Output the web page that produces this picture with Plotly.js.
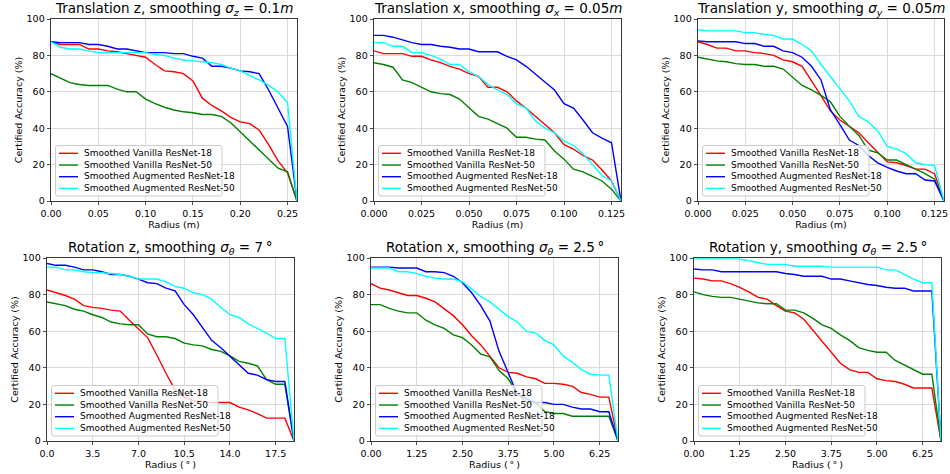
<!DOCTYPE html>
<html>
<head>
<meta charset="utf-8">
<script src="https://cdn.plot.ly/plotly-3.0.1.min.js"></script>
<style>html,body{margin:0;padding:0;background:#fff;}#chart{width:950px;height:474px;}</style>
</head>
<body>
<div id="chart"></div>
<script>
// ---------- data ----------
const seriesNames = ['Smoothed Vanilla ResNet-18', 'Smoothed Vanilla ResNet-50', 'Smoothed Augmented ResNet-18', 'Smoothed Augmented ResNet-50'];

// Translation z
const tzRadius = [0,0.01,0.02,0.03,0.04,0.05,0.06,0.07,0.08,0.09,0.10,0.11,0.12,0.13,0.14,0.15,0.16,0.17,0.18,0.19,0.20,0.21,0.22,0.23,0.24,0.25,0.26];
const tzVan18 = [87.5,86,86,86,83.5,83.5,82.5,82,81,80,79,75,71.5,71,70,66,56.5,52.5,49.5,46,43.5,42.5,39,31,22,15.5,0];
const tzVan50 = [70,67.5,65,64,63.5,63.5,63.5,61.5,60,60,56,53.5,51.5,50,49,48.5,47.5,47.5,46.5,43,38,33,28,23,18,16,0];
const tzAug18 = [87.5,87,87,87,86,86,85,83.5,83.5,82.5,81.5,81.5,81.5,81,81,79.5,78.5,74,74,73,71.5,71,70,61,51,41,0];
const tzAug50 = [87.5,84.5,83.5,83.5,82.5,81.5,81.5,81.5,81.5,81.5,81.5,80.5,80,78.5,77.5,77,76.5,76,75,73,71.5,69,66.5,63.5,60,54,0];

// Translation x
const txRadius = [0,0.005,0.01,0.015,0.02,0.025,0.03,0.035,0.04,0.045,0.05,0.055,0.06,0.065,0.07,0.075,0.08,0.085,0.09,0.095,0.10,0.105,0.11,0.115,0.12,0.125,0.13];
const txVan18 = [82.5,81,81,81,79.5,79.5,77.5,76,74,72.5,70,68.5,62.5,62.5,60,55,51,46.5,42,37.5,31,28.5,25,22.5,17,11,0];
const txVan50 = [76,75,73.5,66.5,65,62.5,60,59,58.5,56,51,46.5,45,42.5,40,35,35,34,33.5,27.5,23,17.5,16,13.5,11,6.5,0];
const txAug18 = [91,91,90,88.5,87,86,86,85,84.5,83.5,83.5,82,82,82,79.5,77.5,74,69.5,65.5,61,53.5,51,44.5,37.5,34.5,32,0];
const txAug50 = [87,87,85,85,81.5,81.5,80,78,75,75,71,68.5,64,61,58.5,53.5,51,44,40,37.5,33,30.5,26,20,14,11,0];

// Translation y
const tyRadius = [0,0.005,0.01,0.015,0.02,0.025,0.03,0.035,0.04,0.045,0.05,0.055,0.06,0.065,0.07,0.075,0.08,0.085,0.09,0.095,0.10,0.105,0.11,0.115,0.12,0.125,0.13];
const tyVan18 = [87.5,86,84,84,82.5,82.5,81.5,81,80,77.5,76.5,74,66,58,49.5,44.5,41,37.5,32,27,21.5,21,19.5,17.5,17.5,15,0];
const tyVan50 = [79,78,77,76.5,75.5,75,75,74,74,72.5,68,63.5,61,58,54.5,46.5,41,36,28,26.5,22.5,22.5,20,17.5,15,12,0];
const tyAug18 = [88,87.5,87.5,87.5,87.5,86.5,86.5,85,85,82.5,81.5,79,74,66.5,50,42,33.5,30.5,25,21,18.5,16.5,15,15,11.5,11,0];
const tyAug50 = [94,93.5,93.5,93.5,93.5,92.5,92.5,91.5,91,89,89,86,82.5,75,68.5,61.5,55,46.5,43.5,38.5,30,28.5,26,21,20,19.5,0];

// Rotation z
const rzRadius = [0,0.7,1.4,2.1,2.8,3.5,4.2,4.9,5.6,6.3,7.0,7.7,8.4,9.1,9.8,10.5,11.2,11.9,12.6,13.3,14.0,14.7,15.4,16.1,16.8,17.5,18.2,18.9];
const rzVan18 = [82.5,81,79.5,77.5,74,73,72.5,71.5,71,66,61,56.5,47,37,28,24,22,21.5,21,21,21,18.5,17,15,12.5,12.5,12.5,0];
const rzVan50 = [76,75,74,72,71,69,67.5,65,64,63.5,63.5,58.5,57,57,56,53.5,52.5,52,50,49,46.5,43.5,42.5,41,33.5,31,31,0];
const rzAug18 = [97,96,96,95,93.5,93.5,92.5,91,91,90,88.5,86.5,86,83.5,82,74.5,69,62,55,51,46.5,42,37,36,33.5,32.5,32.5,0];
const rzAug50 = [95,95,93.5,93.5,92.5,92,92,91.5,91,90,88.5,88.5,88.5,87,84.5,83.5,81,80,77.5,73,69,67.5,64,61.5,59,56,56,0];

// Rotation x
const rxRadius = [0,0.25,0.5,0.75,1.0,1.25,1.5,1.75,2.0,2.25,2.5,2.75,3.0,3.25,3.5,3.75,4.0,4.25,4.5,4.75,5.0,5.25,5.5,5.75,6.0,6.25,6.5,6.75];
const rxVan18 = [86,83.5,82.5,81,79.5,79.5,78,76,72,68.5,63.5,57.5,52.5,46.5,40,37.5,37,35,34,31.5,31.5,31,30,26.5,25.5,24,24,0];
const rxVan50 = [74.5,74.5,72.5,71,70,70,66,63.5,61.5,58,56.5,52.5,47.5,46,38.5,34,26,21,21,16,15,15,13.5,13.5,13.5,13.5,13.5,0];
const rxAug18 = [95,95,95,94.5,94.5,94.5,92.5,92.5,92,90,86.5,81,74,65.5,49,37.5,25.5,23,21,21,20,20,18.5,17.5,17.5,16,16,0];
const rxAug50 = [94.5,94.5,94.5,92.5,92.5,91.5,90,89,88.5,88.5,87,83,79,76,72,68,65,60,59,55,52.5,46.5,43,39,36.5,36,36,0];

// Rotation y
const ryRadius = [0,0.25,0.5,0.75,1.0,1.25,1.5,1.75,2.0,2.25,2.5,2.75,3.0,3.25,3.5,3.75,4.0,4.25,4.5,4.75,5.0,5.25,5.5,5.75,6.0,6.25,6.5,6.75];
const ryVan18 = [89,88.5,87.5,87.5,86,84,81.5,78.5,77.5,74,71,70,66.5,60.5,54.5,49,42.5,39,37.5,37.5,34,33,32.5,31,29,29,29,0];
const ryVan50 = [81.5,80,79,78.5,78.5,77.5,76.5,75.5,75,75,71.5,71.5,70,67,63.5,61.5,58,55,51,49.5,48.5,48.5,44,41.5,39,36.5,36.5,0];
const ryAug18 = [94,93.5,93.5,92.5,92.5,92.5,92.5,92.5,92.5,92.5,91.5,91,90,90,90,88.5,88.5,87.5,86.5,85.5,85,84,83.5,83.5,82,82,82,0];
const ryAug50 = [99.5,99.5,99.5,99.5,99.5,99.5,98.5,97.5,96.5,96.5,96.5,95.5,95.5,95.5,95.5,95,95,95,95,95,95,93.5,93.5,91,88.5,86.5,86.5,0];

const yTickVals = [0,20,40,60,80,100];

// ---------- panels ----------
const SUB = '<span style="font-size:70%;baseline-shift:-3px">';
const degLabel = 'Radius (\u2009°\u2009)';
const panels = [
  {title:'Translation z, smoothing <i>σ</i>' + SUB + '<i>z</i></span> = 0.1<i>m</i>', xt:'Radius (m)', r:tzRadius, s:[tzVan18,tzVan50,tzAug18,tzAug50], dtick:0.05, fmt:'.2f', dom:[51,297], row:0},
  {title:'Translation x, smoothing <i>σ</i>' + SUB + '<i>x</i></span> = 0.05<i>m</i>', xt:'Radius (m)', r:txRadius, s:[txVan18,txVan50,txAug18,txAug50], dtick:0.025, fmt:'.3f', dom:[374,621], row:0},
  {title:'Translation y, smoothing <i>σ</i>' + SUB + '<i>y</i></span> = 0.05<i>m</i>', xt:'Radius (m)', r:tyRadius, s:[tyVan18,tyVan50,tyAug18,tyAug50], dtick:0.025, fmt:'.3f', dom:[698,944], row:0},
  {title:'Rotation z, smoothing <i>σ</i>' + SUB + '<i>θ</i></span> = 7\u2009°', xt:degLabel, r:rzRadius, s:[rzVan18,rzVan50,rzAug18,rzAug50], dtick:3.5, fmt:'.1f', dom:[47,294], row:1},
  {title:'Rotation x, smoothing <i>σ</i>' + SUB + '<i>θ</i></span> = 2.5\u2009°', xt:degLabel, r:rxRadius, s:[rxVan18,rxVan50,rxAug18,rxAug50], dtick:1.25, fmt:'.2f', dom:[371,618], row:1},
  {title:'Rotation y, smoothing <i>σ</i>' + SUB + '<i>θ</i></span> = 2.5\u2009°', xt:degLabel, r:ryRadius, s:[ryVan18,ryVan50,ryAug18,ryAug50], dtick:1.25, fmt:'.2f', dom:[694,941], row:1}
];

const colors = ['#ff0000','#008000','#0000ff','#00ffff'];
const W = 950, H = 474;
const rowsPx = [[19,201],[258,441]];
const FONT = 'DejaVu Sans, Liberation Sans, sans-serif';

const data = [];
const layout = {
  width: W, height: H,
  margin: {l:0, r:0, t:0, b:0},
  paper_bgcolor: '#ffffff', plot_bgcolor: '#ffffff',
  showlegend: false,
  font: {family: FONT, size: 10, color: '#000'},
  shapes: [], annotations: []
};

// rounded rectangle path in pixel offsets (y up)
function roundRect(x0, y0, x1, y1, r) {
  return 'M' + (x0 + r) + ',' + y0 + ' L' + (x1 - r) + ',' + y0 +
    ' Q' + x1 + ',' + y0 + ' ' + x1 + ',' + (y0 + r) +
    ' L' + x1 + ',' + (y1 - r) + ' Q' + x1 + ',' + y1 + ' ' + (x1 - r) + ',' + y1 +
    ' L' + (x0 + r) + ',' + y1 + ' Q' + x0 + ',' + y1 + ' ' + x0 + ',' + (y1 - r) +
    ' L' + x0 + ',' + (y0 + r) + ' Q' + x0 + ',' + y0 + ' ' + (x0 + r) + ',' + y0 + ' Z';
}

panels.forEach((p, idx) => {
  const k = idx === 0 ? '' : String(idx + 1);
  const xa = 'x' + k, ya = 'y' + k;
  p.s.forEach((vals, i) => {
    data.push({
      type: 'scatter', mode: 'lines', x: p.r, y: vals, name: seriesNames[i],
      xaxis: xa, yaxis: ya, line: {color: colors[i], width: 1.4}, hoverinfo: 'skip'
    });
  });
  const rp = rowsPx[p.row];
  const pw = p.dom[1] - p.dom[0], ph = rp[1] - rp[0];
  const common = {
    showline: true, mirror: true, linecolor: '#222', linewidth: 0.9,
    showgrid: true, gridcolor: '#d2d2d2', gridwidth: 0.8, zeroline: false,
    ticks: 'outside', ticklen: 3.5, tickwidth: 0.8, tickcolor: '#222',
    tickfont: {family: FONT, size: 9.5, color: '#000'}
  };
  layout['xaxis' + k] = Object.assign({}, common, {
    domain: [p.dom[0] / W, p.dom[1] / W], anchor: ya,
    range: [0, p.r[p.r.length - 1]], tick0: 0, dtick: p.dtick, tickformat: p.fmt,
    title: {text: p.xt, font: {family: FONT, size: 9.5, color: '#000'}, standoff: 3}
  });
  layout['yaxis' + k] = Object.assign({}, common, {
    domain: [1 - rp[1] / H, 1 - rp[0] / H], anchor: xa,
    range: [0, 100], tickvals: yTickVals,
    title: {text: 'Certified Accuracy (%)', font: {family: FONT, size: 9.5, color: '#000'}, standoff: 2}
  });
  const xr = xa + ' domain', yr = ya + ' domain';
  layout.annotations.push({
    xref: xr, yref: yr, x: 0.5, y: 1, xanchor: 'center', yanchor: 'bottom', yshift: -1,
    text: p.title, showarrow: false, font: {family: FONT, size: 13.5, color: '#000'}
  });
  // legend box (rounded, semi-transparent like matplotlib)
  layout.shapes.push({
    type: 'path', xref: xr, yref: yr, xsizemode: 'pixel', ysizemode: 'pixel', xanchor: 0, yanchor: 0,
    path: roundRect(4.5, 5, 171, 55.5, 2.5), fillcolor: 'rgba(255,255,255,0.8)',
    line: {color: '#cccccc', width: 1}, layer: 'above'
  });
  const rowGap = 11.7;
  const yMid = (47.7 + 47.7 - 3 * rowGap) / 2;
  seriesNames.forEach((name, i) => {
    const yy = 47.7 - i * rowGap;
    layout.shapes.push({
      type: 'line', xref: xr, yref: yr, xsizemode: 'pixel', ysizemode: 'pixel', xanchor: 0, yanchor: 0,
      x0: 8, x1: 27, y0: yy, y1: yy, line: {color: colors[i], width: 1.4}, layer: 'above'
    });
  });
  layout.annotations.push({
    xref: xr, yref: yr, x: 31 / pw, y: yMid / ph, xanchor: 'left', yanchor: 'middle', align: 'left',
    text: seriesNames.join('<br>'), showarrow: false, font: {family: FONT, size: 9, color: '#000'}
  });
});

Plotly.newPlot('chart', data, layout, {displayModeBar: false, staticPlot: true});
</script>
</body>
</html>
